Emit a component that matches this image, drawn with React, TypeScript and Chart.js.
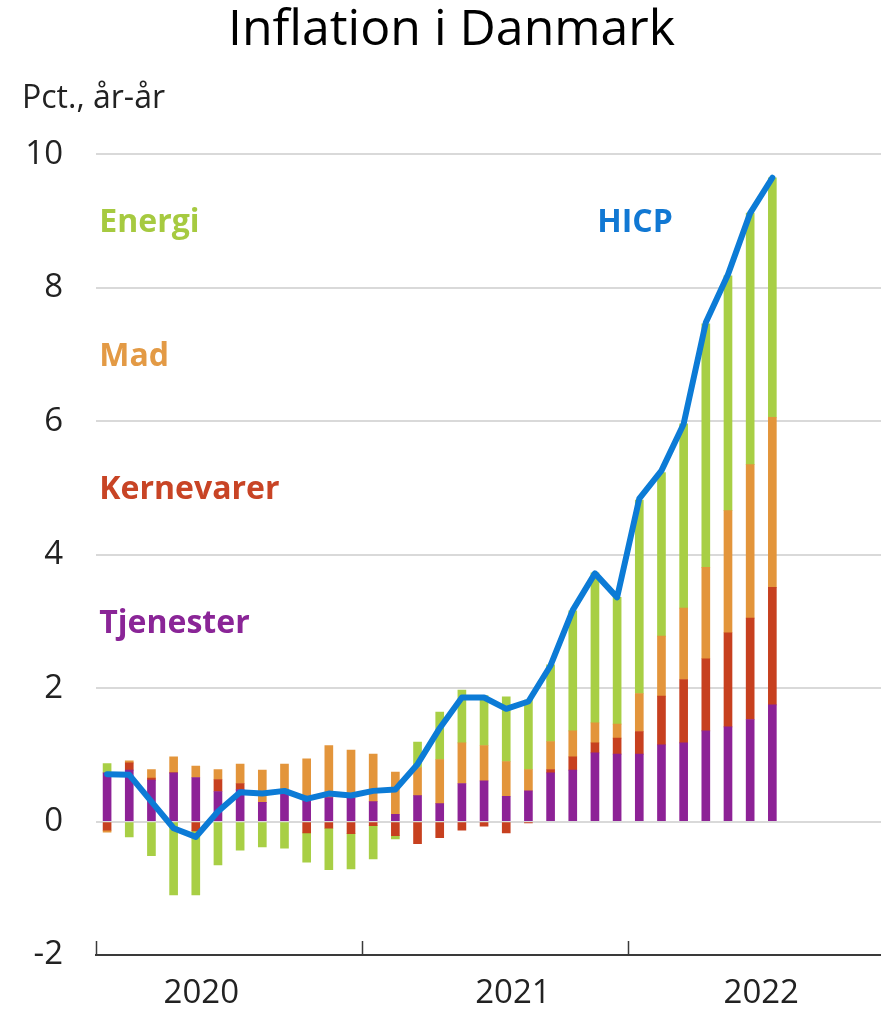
import React, { useEffect, useRef } from 'react';
import { Chart, registerables } from 'chart.js';

Chart.register(...registerables);

// Months shown (Jan 2020 – Jul 2022)
const months = [
  '2020-01', '2020-02', '2020-03', '2020-04', '2020-05', '2020-06',
  '2020-07', '2020-08', '2020-09', '2020-10', '2020-11', '2020-12',
  '2021-01', '2021-02', '2021-03', '2021-04', '2021-05', '2021-06',
  '2021-07', '2021-08', '2021-09', '2021-10', '2021-11', '2021-12',
  '2022-01', '2022-02', '2022-03', '2022-04', '2022-05', '2022-06',
  '2022-07',
];

// Contributions, percentage points
const tjenester = [0.73, 0.77, 0.62, 0.73, 0.66, 0.45, 0.48, 0.29, 0.43, 0.31, 0.36, 0.35, 0.30, 0.11, 0.39, 0.27, 0.57, 0.61, 0.38, 0.46, 0.73, 0.77, 1.03, 1.01, 1.01, 1.15, 1.18, 1.36, 1.42, 1.53, 1.75];
const kernevarer = [-0.13, 0.11, 0.03, 0, -0.14, 0.18, 0.09, 0, 0, -0.17, -0.10, -0.18, -0.06, -0.21, -0.33, -0.24, -0.13, -0.07, -0.17, -0.02, 0.05, 0.20, 0.15, 0.24, 0.34, 0.73, 0.95, 1.08, 1.41, 1.52, 1.76];
const mad = [-0.03, 0.03, 0.13, 0.24, 0.17, 0.15, 0.29, 0.48, 0.43, 0.63, 0.78, 0.72, 0.71, 0.63, 0.42, 0.66, 0.61, 0.53, 0.52, 0.32, 0.42, 0.39, 0.30, 0.21, 0.57, 0.90, 1.07, 1.37, 1.83, 2.30, 2.55];
const energi = [0.14, -0.23, -0.51, -1.10, -0.96, -0.65, -0.43, -0.38, -0.40, -0.44, -0.62, -0.53, -0.50, -0.05, 0.38, 0.71, 0.79, 0.75, 0.97, 1.04, 1.15, 1.80, 2.25, 1.90, 2.90, 2.45, 2.76, 3.65, 3.52, 3.77, 3.59];
const hicp = [0.71, 0.70, 0.30, -0.10, -0.23, 0.15, 0.44, 0.42, 0.46, 0.34, 0.42, 0.39, 0.46, 0.48, 0.86, 1.40, 1.86, 1.86, 1.69, 1.80, 2.34, 3.17, 3.72, 3.36, 4.84, 5.26, 5.96, 7.48, 8.20, 9.12, 9.65];

const yearLabels = ['2020', '2021', '2022'];
const yTicks = [-2, 0, 2, 4, 6, 8, 10];

const GREEN = '#a8cf45';
const ORANGE = '#e3953b';
const RED = '#c7401f';
const PURPLE = '#8d2296';
const BLUE = '#0c7bd6';
const FONT = "'Open Sans'";

export default function App() {
  const ref = useRef<HTMLCanvasElement>(null);

  useEffect(() => {
    document.body.style.margin = '0';
    document.body.style.overflow = 'hidden';
    const canvas = ref.current;
    if (!canvas) return;

    const pts = (arr: number[]) => arr.map((y, i) => ({ x: i, y }));

    // axis layout in month-index units
    const yearLabelPos = [4.25, 18.3, 29.5];
    const yearBounds = [-0.5, 11.5, 23.5];

    const annotations = [
      { text: 'Energi', color: '#a6ca40', x: -0.35, y: 9 },
      { text: 'Mad', color: '#e39a45', x: -0.35, y: 7 },
      { text: 'Kernevarer', color: '#c84425', x: -0.35, y: 5 },
      { text: 'Tjenester', color: '#8a2597', x: -0.35, y: 3 },
      { text: 'HICP', color: '#1178d3', x: 22.1, y: 9 },
    ];

    const overlay = {
      id: 'overlay',
      afterDraw(chart: any) {
        const { ctx, scales } = chart;
        const xs = scales.x;
        const ys = scales.y;
        ctx.save();
        ctx.font = `bold 32px ${FONT}`;
        ctx.textAlign = 'left';
        ctx.textBaseline = 'middle';
        for (const a of annotations) {
          ctx.fillStyle = a.color;
          ctx.fillText(a.text, xs.getPixelForValue(a.x), ys.getPixelForValue(a.y) + 2);
        }
        ctx.strokeStyle = '#3a3a3a';
        ctx.lineWidth = 1.5;
        const bottom = ys.getPixelForValue(-2);
        for (const b of yearBounds) {
          const px = Math.round(xs.getPixelForValue(b)) + 0.5;
          ctx.beginPath();
          ctx.moveTo(px, bottom);
          ctx.lineTo(px, bottom - 14);
          ctx.stroke();
        }
        ctx.restore();
      },
    };

    const barDefaults = { stack: 'c', barThickness: 8, borderWidth: 0, order: 1 };

    const chart = new Chart(canvas, {
      type: 'bar',
      data: {
        datasets: [
          { type: 'line', label: 'HICP', data: pts(hicp), borderColor: BLUE, borderWidth: 6, pointRadius: 0, tension: 0, stack: 'line', order: 0, borderJoinStyle: 'round', borderCapStyle: 'round' } as any,
          { label: 'Tjenester', data: pts(tjenester), backgroundColor: PURPLE, ...barDefaults },
          { label: 'Kernevarer', data: pts(kernevarer), backgroundColor: RED, ...barDefaults },
          { label: 'Mad', data: pts(mad), backgroundColor: ORANGE, ...barDefaults },
          { label: 'Energi', data: pts(energi), backgroundColor: GREEN, ...barDefaults },
        ],
      },
      options: {
        responsive: false,
        animation: false,
        layout: { padding: { left: 22, right: 0, top: 0, bottom: 0 } },
        plugins: {
          legend: { display: false },
          tooltip: { enabled: false },
          title: {
            display: true,
            text: 'Inflation i Danmark',
            font: { family: FONT, size: 50, weight: 'normal' },
            color: '#000',
            padding: { top: 1, bottom: 0 },
          },
          subtitle: {
            display: true,
            text: 'Pct., år-år',
            align: 'start',
            font: { family: FONT, size: 32, weight: 'normal' },
            color: '#222',
            padding: { top: 19, bottom: 36 },
          },
        },
        scales: {
          x: {
            type: 'linear',
            offset: false,
            bounds: 'ticks',
            min: -0.5,
            max: 34.9,
            grid: { display: true, drawOnChartArea: false, drawTicks: false },
            border: { display: true, color: '#3a3a3a', width: 2 },
            ticks: {
              autoSkip: false,
              maxRotation: 0,
              padding: 19,
              font: { family: FONT, size: 33 },
              color: '#222',
              callback: (_v: any, i: number) => yearLabels[i] ?? '',
            },
            afterBuildTicks: (s: any) => {
              s.ticks = yearLabelPos.map((v) => ({ value: v }));
            },
            afterFit: (s: any) => {
              s.height = 58;
            },
          },
          y: {
            stacked: true,
            min: -2,
            max: 10,
            grid: {
              color: (c: any) => (c.tick && c.tick.value === -2 ? 'rgba(0,0,0,0)' : '#d9d9d9'),
              lineWidth: 2,
              drawTicks: false,
            },
            border: { display: false },
            ticks: {
              padding: 33,
              font: { family: FONT, size: 33 },
              color: '#222',
            },
            afterBuildTicks: (s: any) => {
              s.ticks = yTicks.map((v) => ({ value: v }));
            },
            afterFit: (s: any) => {
              s.width = 74;
            },
          },
        },
      } as any,
      plugins: [overlay],
    });

    return () => chart.destroy();
  }, []);

  return <canvas ref={ref} width={881} height={1013} style={{ display: 'block' }} />;
}
